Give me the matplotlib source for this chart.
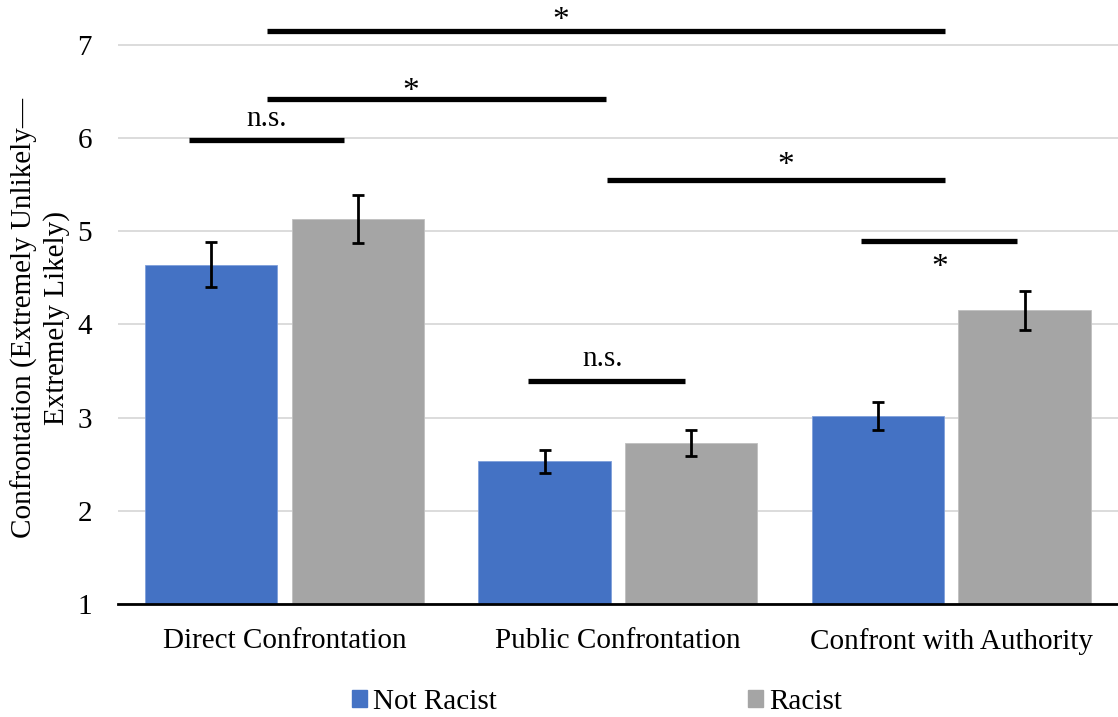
import numpy as np
import matplotlib.pyplot as plt
from matplotlib.patches import Patch

plt.rcParams['font.family'] = ['Liberation Serif', 'DejaVu Serif']

categories = ['Direct Confrontation', 'Public Confrontation', 'Confront with Authority']
not_racist = [4.64, 2.53, 3.02]
not_racist_err = [0.24, 0.12, 0.15]
racist = [5.13, 2.73, 4.15]
racist_err = [0.26, 0.14, 0.21]

# significance brackets: x start, x end, y of line, label, label x, label y
sig_x0 = [-0.287, -0.054, -0.054, 0.967, 1.728, 0.731]
sig_x1 = [0.179, 0.964, 1.982, 1.982, 2.197, 1.200]
sig_y = [5.98, 6.42, 7.15, 5.55, 4.89, 3.39]
sig_label = ['n.s.', '*', '*', '*', '*', 'n.s.']
sig_tx = [-0.054, 0.378, 0.828, 1.504, 1.964, 0.955]
sig_ty = [6.13, 6.41, 7.17, 5.61, 4.52, 3.55]

blue = '#4472C4'
gray = '#A5A5A5'
fs = 21

fig = plt.figure(figsize=(11.18, 7.17), dpi=100)
ax = fig.add_axes([0.1055, 0.1576, 0.8945, 0.8424])

x = np.arange(len(categories))
w = 0.397
off = 0.22
ekw = dict(elinewidth=2, capsize=4.5, capthick=2, ecolor='black')
ax.bar(x - off, not_racist, w, color=blue, edgecolor='#7F9FDB', linewidth=0.6,
       yerr=not_racist_err, error_kw=ekw, zorder=2)
ax.bar(x + off, racist, w, color=gray, edgecolor='#C0C0C0', linewidth=0.6,
       yerr=racist_err, error_kw=ekw, zorder=2)

ax.set_xlim(-0.5, 2.5)
ax.set_ylim(1, 7.48)
ax.set_yticks(range(1, 8))
ax.set_xticks(x)
ax.set_xticklabels(categories, fontsize=fs)
ax.tick_params(axis='y', labelsize=fs, length=0, pad=24)
ax.tick_params(axis='x', length=0, pad=17)
for t in ax.get_yticklabels():
    t.set_horizontalalignment('center')
ax.grid(axis='y', color='#D9D9D9', linewidth=1.3, zorder=0)
ax.set_axisbelow(True)
for s in ['left', 'right', 'top']:
    ax.spines[s].set_visible(False)
ax.spines['bottom'].set_linewidth(2)
ax.spines['bottom'].set_zorder(3)

for x0, x1, y, lab, tx, ty in zip(sig_x0, sig_x1, sig_y, sig_label, sig_tx, sig_ty):
    ax.plot([x0, x1], [y, y], color='black', linewidth=3.8, solid_capstyle='butt',
            clip_on=False, zorder=4)
    ax.text(tx, ty, lab, ha='center', va='baseline', fontsize=fs if lab != '*' else 24,
            clip_on=False)

fig.text(40 / 1118, 1 - 318 / 717, 'Confrontation (Extremely Unlikely\u2014\nExtremely Likely)',
         rotation=90, ha='center', va='center', multialignment='center',
         fontsize=fs, linespacing=1.25)

handles = [Patch(color=blue), Patch(color=gray)]
fig.legend(handles, ['Not Racist', 'Racist'], loc='center', bbox_to_anchor=(597 / 1118, 15 / 717),
           ncol=2, frameon=False, fontsize=fs, handlelength=0.52, handleheight=0.52,
           handletextpad=0.2, columnspacing=8.6, borderpad=0)

fig.savefig('out.png', dpi=100)
